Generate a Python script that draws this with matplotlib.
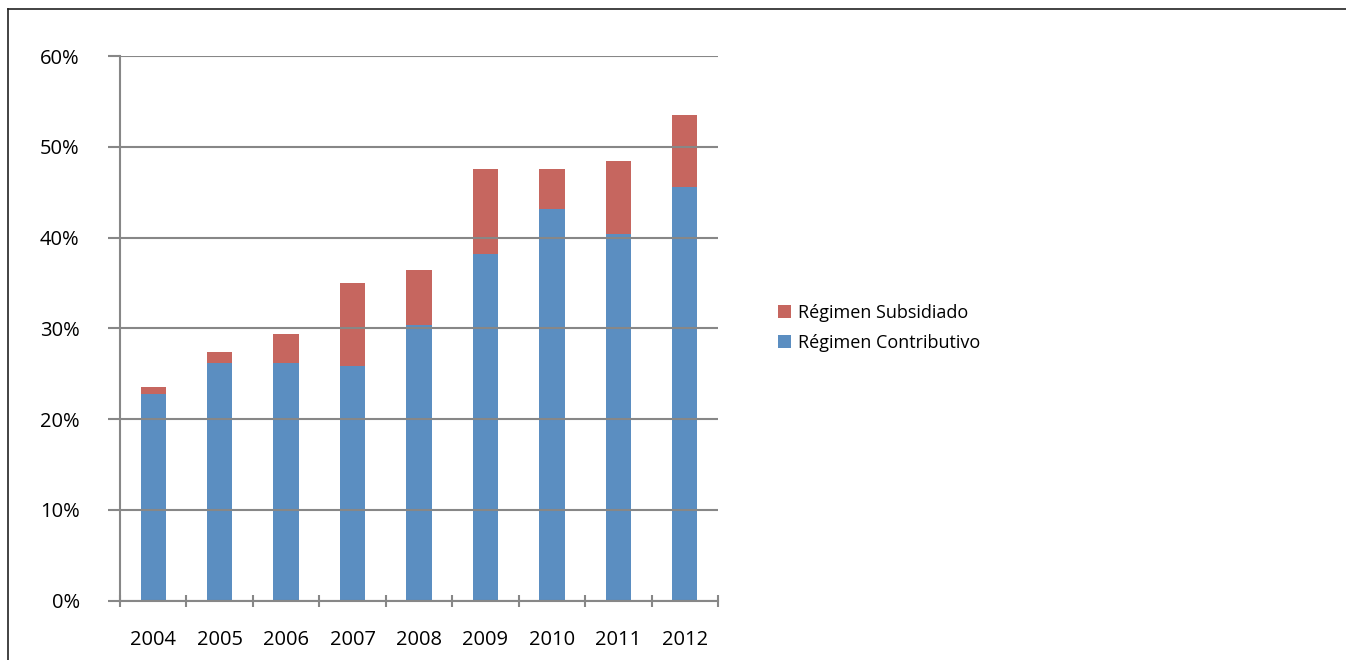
import matplotlib
matplotlib.use("Agg")
import matplotlib.pyplot as plt
from matplotlib.lines import Line2D
from matplotlib.ticker import FuncFormatter, FixedLocator
import numpy as np

plt.rcParams['font.family'] = ['Open Sans', 'DejaVu Sans']

years = ["2004", "2005", "2006", "2007", "2008", "2009", "2010", "2011", "2012"]
contributivo = [22.8, 26.2, 26.2, 25.9, 30.4, 38.2, 43.1, 40.4, 45.6]
subsidiado = [0.7, 1.2, 3.2, 9.1, 6.0, 9.4, 4.5, 8.0, 7.9]

blue = "#5B8EC1"
red = "#C6665F"
grid_gray = "#878787"

fig = plt.figure(figsize=(13.46, 6.60), dpi=100)
ax = fig.add_axes([120 / 1346, 1 - 600.7 / 660, 598 / 1346, (600.7 - 56) / 660])

x = np.arange(len(years))
ax.bar(x, contributivo, width=0.38, color=blue, label="Régimen Contributivo", zorder=1)
ax.bar(x, subsidiado, width=0.38, bottom=contributivo, color=red,
       label="Régimen Subsidiado", zorder=1)

ax.set_xlim(-0.5, len(years) - 0.5)
ax.set_ylim(0, 60)
ax.set_yticks(np.arange(0, 61, 10))
ax.yaxis.set_major_formatter(FuncFormatter(lambda v, p: f"{v:.0f}%"))
ax.grid(axis='y', color=grid_gray, linewidth=1.5)
ax.set_axisbelow(False)

# category labels at bar centres, tick marks at category boundaries
ax.set_xticks(x)
ax.set_xticklabels(years)
ax.xaxis.set_minor_locator(FixedLocator(np.arange(-0.5, len(years), 1.0)))
ax.tick_params(axis='x', which='major', length=0, pad=21, labelsize=14.5)
ax.tick_params(axis='x', which='minor', direction='inout', length=8,
               width=1.5, color=grid_gray)
ax.tick_params(axis='y', direction='out', length=9, width=1.5,
               color=grid_gray, pad=20, labelsize=14.5)

for side in ('top', 'right'):
    ax.spines[side].set_visible(False)
for side in ('left', 'bottom'):
    ax.spines[side].set_color(grid_gray)
    ax.spines[side].set_linewidth(1.5)

handles, labels = ax.get_legend_handles_labels()
leg = fig.legend(handles[::-1], labels[::-1], loc='center left',
                 bbox_to_anchor=(769 / 1346, 1 - 328 / 660), frameon=False,
                 fontsize=13, handlelength=0.7, handleheight=0.7,
                 handletextpad=0.4, labelspacing=0.65, borderpad=0)

# outer frame around the chart
fig.add_artist(Line2D([8 / 1346, 8 / 1346], [0, 1 - 9 / 660],
                      transform=fig.transFigure, color="#222222", linewidth=1.2))
fig.add_artist(Line2D([8 / 1346, 1], [1 - 9 / 660, 1 - 9 / 660],
                      transform=fig.transFigure, color="#222222", linewidth=1.2))

fig.savefig("out.png", dpi=100)
